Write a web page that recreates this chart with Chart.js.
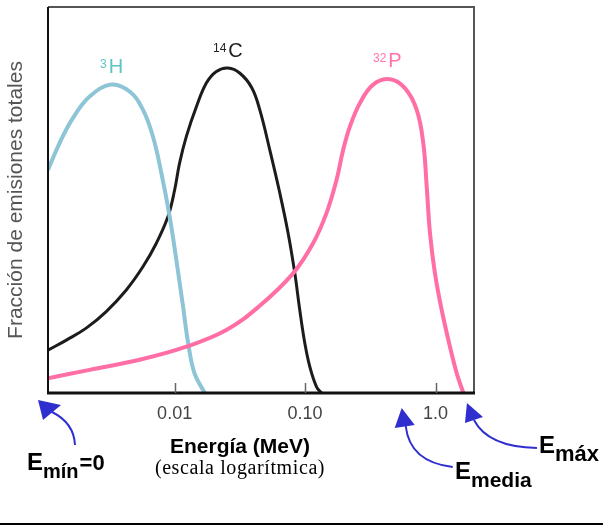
<!DOCTYPE html>
<html>
<head>
<meta charset="utf-8">
<script src="https://cdn.jsdelivr.net/npm/chart.js@4/dist/chart.umd.min.js"></script>
<style>
  html, body { margin: 0; padding: 0; background: #fff; }
  canvas { display: block; }
</style>
</head>
<body>
<canvas id="chart" width="607" height="526"></canvas>
<script>
// ===== DATA (energía en MeV, fracción relativa) =====
const h3E = [0.00107, 0.00131, 0.00166, 0.00223, 0.00327, 0.00452, 0.00571, 0.00681, 0.00791, 0.00916, 0.0103, 0.0116, 0.0127, 0.0142, 0.0170];
const h3Y = [0.578, 0.647, 0.712, 0.768, 0.799, 0.781, 0.734, 0.665, 0.570, 0.457, 0.345, 0.224, 0.129, 0.051, 0.0];

const c14E = [0.00107, 0.00148, 0.0021, 0.00299, 0.00426, 0.00571, 0.00724, 0.00889, 0.0100, 0.0109, 0.0123, 0.0147, 0.0175, 0.0209, 0.0256, 0.0315, 0.039, 0.0449, 0.0536, 0.0640, 0.0741, 0.0834, 0.0910, 0.0995, 0.1087, 0.1223, 0.1336];
const c14Y = [0.111, 0.137, 0.168, 0.211, 0.267, 0.327, 0.388, 0.457, 0.526, 0.595, 0.665, 0.742, 0.803, 0.833, 0.842, 0.829, 0.791, 0.734, 0.630, 0.518, 0.414, 0.310, 0.215, 0.129, 0.068, 0.016, 0.0];

const p32E = [0.00107, 0.00223, 0.00539, 0.0123, 0.0249, 0.0449, 0.0809, 0.1151, 0.1458, 0.1741, 0.1958, 0.2204, 0.2630, 0.3326, 0.4467, 0.582, 0.716, 0.805, 0.855, 0.906, 0.989, 1.114, 1.289, 1.452, 1.632];
const p32Y = [0.038, 0.060, 0.086, 0.120, 0.163, 0.226, 0.310, 0.388, 0.466, 0.552, 0.630, 0.690, 0.751, 0.799, 0.813, 0.790, 0.734, 0.647, 0.535, 0.414, 0.310, 0.215, 0.120, 0.051, 0.0];

const tickVals = [0.01, 0.1, 1];
const tickLabels = ['0.01', '0.10', '1.0'];
const eMedia = 0.55, eMax = 1.74;

const SANS = "'Liberation Sans', Arial, sans-serif";
const BLUE = '#2f2fcf';
const pts = (xs, ys) => xs.map((x, i) => ({ x, y: ys[i] }));

// ===== DECORATION (marco, marcas, rótulos, flechas) =====
function supLabel(ctx, sup, main, x, base, color) {
  ctx.fillStyle = color; ctx.textAlign = 'left'; ctx.textBaseline = 'alphabetic';
  ctx.font = '12px ' + SANS; ctx.fillText(sup, x, base - 5);
  const w = ctx.measureText(sup).width;
  ctx.font = '20px ' + SANS; ctx.fillText(main, x + w + 2, base);
}
function subLabel(ctx, x, base, sub, subSize, tail) {
  ctx.fillStyle = '#000'; ctx.textAlign = 'left'; ctx.textBaseline = 'alphabetic';
  ctx.font = 'bold 24px ' + SANS; ctx.fillText('E', x, base);
  const w = ctx.measureText('E').width;
  ctx.font = 'bold ' + subSize + 'px ' + SANS; ctx.fillText(sub, x + w, base + 8);
  if (tail) { const s = ctx.measureText(sub).width; ctx.font = 'bold 22px ' + SANS; ctx.fillText(tail, x + w + s + 1, base); }
}
function arrow(ctx, tx, ty, l, r, s, c, e) {
  ctx.strokeStyle = BLUE; ctx.fillStyle = BLUE; ctx.lineWidth = 2;
  ctx.beginPath(); ctx.moveTo(tx + s[0], ty + s[1]);
  ctx.quadraticCurveTo(tx + c[0], ty + c[1], tx + e[0], ty + e[1]); ctx.stroke();
  ctx.beginPath(); ctx.moveTo(tx, ty); ctx.lineTo(tx + l[0], ty + l[1]); ctx.lineTo(tx + r[0], ty + r[1]); ctx.closePath(); ctx.fill();
}

const decor = {
  id: 'decor',
  afterDraw(chart) {
    const { ctx, chartArea: a, scales: { x } } = chart;
    ctx.save();
    // frame
    ctx.lineWidth = 2; ctx.strokeStyle = '#555';
    ctx.beginPath(); ctx.moveTo(a.left, a.top); ctx.lineTo(a.right, a.top); ctx.lineTo(a.right, a.bottom); ctx.stroke();
    ctx.strokeStyle = '#111';
    ctx.beginPath(); ctx.moveTo(a.left, a.top); ctx.lineTo(a.left, a.bottom); ctx.stroke();
    ctx.lineWidth = 3;
    ctx.beginPath(); ctx.moveTo(a.left - 1, a.bottom); ctx.lineTo(a.right + 1, a.bottom); ctx.stroke();
    // inside ticks
    ctx.lineWidth = 1.5; ctx.strokeStyle = '#666';
    tickVals.forEach(v => { const px = Math.round(x.getPixelForValue(v)) + 0.5; ctx.beginPath(); ctx.moveTo(px, a.bottom); ctx.lineTo(px, a.bottom - 10); ctx.stroke(); });
    // curve labels
    supLabel(ctx, '3', 'H', 100, 73, '#5ec3c6');
    supLabel(ctx, '14', 'C', 213, 57, '#222');
    supLabel(ctx, '32', 'P', 373, 67, '#ff72ac');
    // axis title
    ctx.fillStyle = '#000'; ctx.textAlign = 'center'; ctx.textBaseline = 'alphabetic';
    ctx.font = 'bold 21px ' + SANS; ctx.fillText('Energía (MeV)', 240, 453);
    ctx.font = "20px 'Liberation Serif', 'Times New Roman', serif"; ctx.letterSpacing = '0.6px';
    ctx.fillText('(escala logarítmica)', 240, 474); ctx.letterSpacing = '0px';
    // arrows + E labels
    arrow(ctx, a.left - 10, a.bottom + 7, [5, 20], [23, 5], [14, 12], [36, 23], [37, 45]);
    const xm = x.getPixelForValue(eMedia), xx = x.getPixelForValue(eMax);
    arrow(ctx, xm, a.bottom + 15, [-7, 20], [13, 17], [4, 18], [8, 54], [51, 59]);
    arrow(ctx, xx, a.bottom + 10, [-2, 20], [16, 14], [7, 17], [21, 44], [70, 45]);
    subLabel(ctx, 27, 470, 'mín', 20, '=0');
    subLabel(ctx, 455, 479, 'media', 21);
    subLabel(ctx, 539, 453, 'máx', 22);
    // rule under figure
    ctx.fillStyle = '#000'; ctx.fillRect(0, 523, 603, 2);
    ctx.restore();
  }
};

// ===== CHART =====
const line = (data, color, w) => ({ data, borderColor: color, borderWidth: w, pointRadius: 0, tension: 0.4, fill: false });

new Chart(document.getElementById('chart'), {
  type: 'line',
  data: {
    datasets: [
      line(pts(p32E, p32Y), '#ff6fa6', 4),
      line(pts(h3E, h3Y), '#8dc4d6', 4),
      line(pts(c14E, c14Y), '#1c1c1c', 3)
    ]
  },
  options: {
    responsive: false,
    animation: false,
    layout: { padding: { top: 7, right: 133, left: 0, bottom: 0 } },
    plugins: { legend: { display: false }, tooltip: { enabled: false } },
    scales: {
      x: {
        type: 'logarithmic', min: 0.00107, max: 1.97,
        afterBuildTicks: s => { s.ticks = tickVals.map(v => ({ value: v })); },
        afterFit: s => { s.height = 133; },
        grid: { display: false }, border: { display: false },
        ticks: { autoSkip: false, maxRotation: 0, padding: 2, color: '#444', font: { family: SANS, size: 18 }, callback: (v, i) => tickLabels[i] }
      },
      y: {
        min: 0, max: 1,
        afterFit: s => { s.width = 48; },
        grid: { display: false }, border: { display: false },
        ticks: { display: false },
        title: { display: true, text: 'Fracción de emisiones totales', color: '#555', padding: { top: 4, bottom: 0 }, font: { family: SANS, size: 21 } }
      }
    }
  },
  plugins: [decor]
});
</script>
</body>
</html>
